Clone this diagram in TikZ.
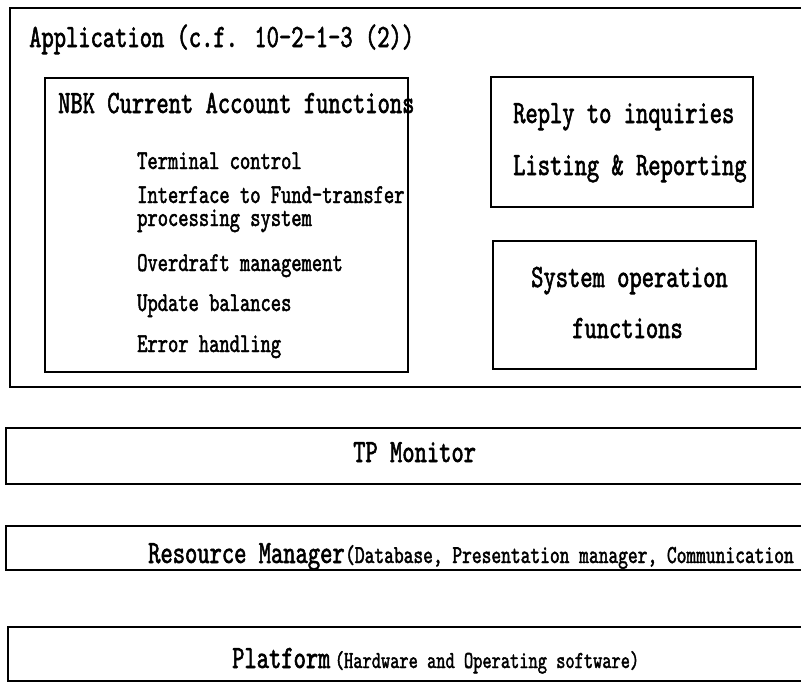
\documentclass[tikz,border=0pt]{standalone}
\usepackage{fontspec}
\newfontfamily\narrowmono[Extension=.otf,FakeStretch=0.72,FakeBold=1.7]{lmmono10-regular}
\begin{document}
\begin{tikzpicture}[x=1pt,y=-1pt,
  frame/.style={draw=black,line width=1.4pt},
  lbl/.style={inner sep=0pt,anchor=base west,font=\narrowmono},
  big/.style={lbl,font=\narrowmono\fontsize{32.5}{34}\selectfont},
  small/.style={lbl,font=\narrowmono\fontsize{27.2}{29}\selectfont},
  note/.style={lbl,font=\narrowmono\fontsize{25.8}{27}\selectfont},
  pnote/.style={lbl,font=\narrowmono\fontsize{24.4}{26}\selectfont}]
\useasboundingbox[fill=white] (0,0) rectangle (801,683);

% Application layer (open to the right)
\draw[frame] (801,8) -- (10,8) -- (10,387) -- (801,387);
\node[big] (app) at (29,47) {Application (c.f. 10-2-1-3 (2))};

% NBK current account functions
\draw[frame] (45,78) rectangle (408,372);
\node[big] (nbk) at (58,113) {NBK Current Account functions};
\node[small] (f1) at (137,169) {Terminal control};
\node[small] (f2a) at (137,203) {Interface to Fund-transfer};
\node[small] (f2b) at (137,226) {processing system};
\node[small] (f3) at (137,271) {Overdraft management};
\node[small] (f4) at (137,311) {Update balances};
\node[small] (f5) at (137,352) {Error handling};

% Inquiry and reporting box
\draw[frame] (491,77) rectangle (753,207);
\node[big] (reply) at (513,123) {Reply to inquiries};
\node[big] (list) at (513,175) {Listing \& Reporting};

% System operation box
\draw[frame] (493,241) rectangle (756,369);
\node[big] (sysop) at (531,287) {System operation};
\node[big] (sysfn) at (572,338) {functions};

% TP monitor layer
\draw[frame] (801,428) -- (6,428) -- (6,484) -- (801,484);
\node[big] (tp) at (353,462) {TP Monitor};

% Resource manager layer
\draw[frame] (801,526) -- (6,526) -- (6,570) -- (801,570);
\node[big] (rm) at (148,563) {Resource Manager};
\node[note] (rmx) at (rm.base east) {(Database, Presentation manager, Communication};

% Platform layer
\draw[frame] (801,627) -- (8,627) -- (8,681) -- (801,681);
\node[big] (pf) at (232,668) {Platform};
\node[pnote] (pfx) at ([xshift=4pt]pf.base east) {(Hardware and Operating software)};
\end{tikzpicture}
\end{document}
